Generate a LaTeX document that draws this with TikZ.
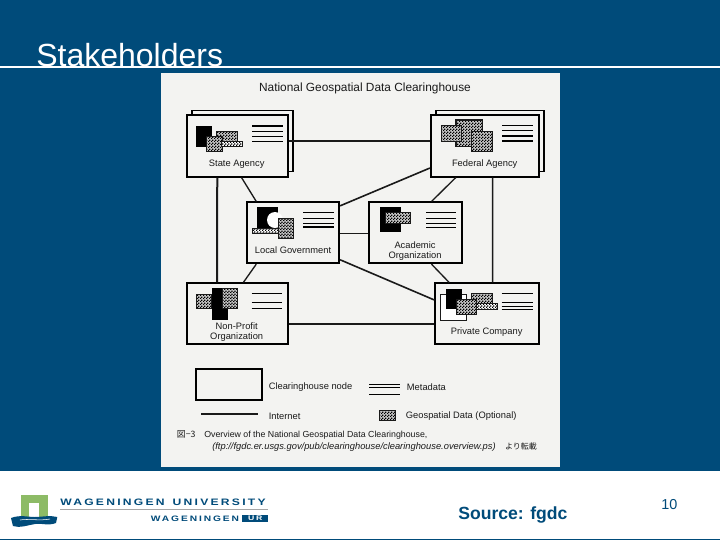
\documentclass[tikz,border=0pt]{standalone}
\usepackage{fontspec}
\setmainfont{Liberation Sans}
\newfontfamily\cjkfont{Noto Sans CJK JP}
\newfontfamily\logofont[LetterSpace=24,FakeStretch=1.3]{Liberation Sans Bold}
\usetikzlibrary{calc,patterns}
\definecolor{slideblue}{HTML}{004B7A}
\definecolor{paper}{HTML}{F3F3F1}
\definecolor{gategreen}{HTML}{8DBB66}
\definecolor{ink}{HTML}{1A1A1A}
\pgfdeclarepatternformonly{halftone}{\pgfpointorigin}{\pgfqpoint{2pt}{2pt}}{\pgfqpoint{2pt}{2pt}}{%
	\pgfpathrectangle{\pgfpointorigin}{\pgfqpoint{1pt}{1pt}}%
	\pgfpathrectangle{\pgfqpoint{1pt}{1pt}}{\pgfqpoint{1pt}{1pt}}%
	\pgfusepath{fill}}
\tikzset{%
	chnode/.style args={#1 and #2}{draw=black,fill=paper,line width=1.3pt,inner sep=0pt,minimum width=#1*0.75pt,minimum height=#2*0.75pt},
	link/.style={draw=ink,line width=#1},
	link/.default=1pt,
	txt/.style={text=ink,font=\fontsize{7}{8}\selectfont,inner sep=0pt},
	swatch/.style={draw=ink,line width=0.4pt,preaction={fill=gray!45},pattern=halftone,pattern color=black},
	strip/.style={swatch,preaction={fill=white}},
	solid block/.style={fill=black},
	meta/.style={draw=black,line width=0.7pt}
}

\begin{document}
\begin{tikzpicture}[x=0.75pt,y=-0.75pt]
	\useasboundingbox (0,0) rectangle (720,540);
	\fill [slideblue] (0,0) rectangle (720,540);
	% title
	\node [text=white,font=\fontsize{24}{28}\selectfont,anchor=base west,inner sep=0pt] (title) at (36,66) {Stakeholders};
	\fill [white] (0,66) rectangle (720,67.6);
	% scanned sheet
	\fill [paper] (161,73) rectangle (560,467);
	\node [txt,font=\fontsize{8.9}{10}\selectfont] (sheet) at (365,88) {National Geospatial Data Clearinghouse};
	% back sheets
	\node [chnode=101 and 61,fill=paper,line width=1pt] (stateback) at (242.5,141.2) {};
	\node [chnode=108 and 61,fill=paper,line width=1pt] (fedback) at (490,141.2) {};
	% clearinghouse nodes
	\node [chnode=101 and 61.5] (state) at (237.4,145.9) {};
	\node [chnode=108.5 and 61.5] (fed) at (485,145.9) {};
	\node [chnode=92.5 and 61] (local) at (293,232.8) {};
	\node [chnode=92.5 and 61] (acad) at (415.5,232.8) {};
	\node [chnode=101 and 61] (nonprofit) at (237.2,313.8) {};
	\node [chnode=103.5 and 61] (private) at (487,313.8) {};
	% connectors
	\draw [link=1.5pt] (state.east |- 0,140.7) -- (fed.west |- 0,140.7);
	\draw [link=1.5pt] (nonprofit.east |- 0,324.3) -- (private.west |- 0,324.3);
	\draw [link=1.5pt] ($(state.south west)!0.304!(state.south east)$) -- ($(nonprofit.north west)!0.304!(nonprofit.north east)$);
	\draw [link] ($(fed.south west)!0.569!(fed.south east)$) -- ($(private.north west)!0.553!(private.north east)$);
	\draw [link] ($(state.south west)!0.54!(state.south east)$) -- ($(local.north west)!0.11!(local.north east)$);
	\draw [link=1.2pt] ($(fed.north west)!0.85!(fed.south west)$) -- ($(local.north east)!0.07!(local.south east)$);
	\draw [link] ($(fed.south west)!0.235!(fed.south east)$) -- ($(acad.north west)!0.67!(acad.north east)$);
	\draw [link=0.6pt] (local.east |- 0,233.3) -- (acad.west |- 0,233.3);
	\draw [link] ($(local.south west)!0.11!(local.south east)$) -- ($(nonprofit.north west)!0.56!(nonprofit.north east)$);
	\draw [link=1.2pt] ($(local.north east)!0.93!(local.south east)$) -- ($(private.north west)!0.28!(private.south west)$);
	\draw [link] ($(acad.south west)!0.67!(acad.south east)$) -- ($(private.north west)!0.14!(private.north east)$);
	% state agency
	\fill [solid block] (196,125.7) rectangle (212.3,146.7);
	\draw [swatch] (216,131.7) rectangle (237.7,141.7);
	\draw [swatch] (206.7,136) rectangle (222.7,151.7);
	\draw [strip] (221.7,141.7) rectangle (242.3,146);
	\foreach \y in {131.7,136.3,141} \draw [meta] (252,\y) -- (282.7,\y);
	\draw [meta,line width=1.3pt] (252,126) -- (282.7,126);
	\node [txt] (statelabel) at (236.7,164.5) {State Agency};
	% federal agency
	\draw [swatch,line width=0.8pt] (456,120) rectangle (482.7,146.7);
	\draw [swatch] (441.7,125) rectangle (461.7,141.7);
	\draw [swatch] (471.7,131.7) rectangle (492.3,151.7);
	\foreach \y in {125,130} \draw [meta] (502.3,\y) -- (533.3,\y);
	\foreach \y in {135.7,140.7} \draw [meta,line width=1.3pt] (502.3,\y) -- (533.3,\y);
	\node [txt] (fedlabel) at (484.7,164.5) {Federal Agency};
	% local government
	\fill [solid block] (257,207.3) rectangle (278,228.3);
	\fill [white] (275,220) circle (8);
	\draw [swatch] (278.3,218.3) rectangle (293.3,238.3);
	\draw [strip] (252.3,228.3) rectangle (278.3,233.3);
	\foreach \y in {212.7,218.3,223.3} \draw [meta] (303.3,\y) -- (334,\y);
	\draw [meta,line width=1.3pt] (303.3,227.3) -- (334,227.3);
	\node [txt] (locallabel) at (293,250.4) {Local Government};
	% academic organization
	\fill [solid block] (380,207.3) rectangle (400.7,232.3);
	\draw [swatch] (385,212.7) rectangle (410.7,223.3);
	\foreach \y in {212.7,218.3,223.3,227.3} \draw [meta] (426,\y) -- (456,\y);
	\node [txt] (acadlabel) at (415,251.2) {\begin{tabular}{@{}c@{}}Academic\\[-0.9pt]Organization\end{tabular}};
	% non-profit organization
	\draw [swatch] (196,294) rectangle (211.7,308.3);
	\fill [solid block] (211.7,288.3) rectangle (227.7,320);
	\draw [swatch] (222.3,288.3) rectangle (237.3,308.3);
	\foreach \y in {293.3,302.7,308.7} \draw [meta] (251.7,\y) -- (282.3,\y);
	\node [txt] (nonprofitlabel) at (236.7,332.2) {\begin{tabular}{@{}c@{}}Non-Profit\\[-0.9pt]Organization\end{tabular}};
	% private company
	\draw [draw=ink,fill=white,line width=0.5pt] (440.7,294) rectangle (466.7,320);
	\fill [solid block] (446,289) rectangle (461.7,309.3);
	\draw [swatch] (471.7,293.3) rectangle (492.3,303.3);
	\draw [strip] (476.7,303.3) rectangle (497.7,309.3);
	\draw [swatch] (456,299.3) rectangle (476.7,314.3);
	\foreach \y in {293.3,302.3,306,309.3} \draw [meta] (501.7,\y) -- (533.3,\y);
	\node [txt] (privatelabel) at (486.7,332.3) {Private Company};
	% legend
	\node [chnode=66.5 and 31,line width=1.5pt] (legendbox) at (229,384.5) {};
	\node [txt,anchor=west] (legendnode) at (268.5,386.7) {Clearinghouse node};
	\coordinate (inta) at (201,414.3);
	\coordinate (intb) at (258.3,414.3);
	\draw [link=1.5pt] (inta) -- (intb);
	\node [txt,anchor=west] (legendint) at (268.5,416.5) {Internet};
	\foreach \y/\w in {384.3/1pt,387.3/1pt,394.3/0.5pt} \draw [meta,line width=\w] (369,\y) -- (400,\y);
	\node [txt,anchor=west] (legendmeta) at (406.7,386.7) {Metadata};
	\draw [swatch] (379.3,410.7) rectangle (395,420);
	\node [txt,anchor=west] (legendgeo) at (405.7,416.5) {Geospatial Data (Optional)};
	% caption
	\node [txt,anchor=west,font=\fontsize{6.6}{7}\selectfont] (caption) at (176.7,434.5) {{\cjkfont 図−3}\quad Overview of the National Geospatial Data Clearinghouse,};
	\node [txt,anchor=west,font=\fontsize{7}{8}\selectfont] (captionb) at (212,447) {\textit{(ftp://fgdc.er.usgs.gov/pub/clearinghouse/clearinghouse.overview.ps)}\hspace{7pt}{\cjkfont\fontsize{6}{7}\selectfont より転載}};
	% footer
	\fill [white] (0,471) rectangle (720,538.6);
	\fill [gategreen] (20.7,495) rectangle (47.7,518.5);
	\fill [white] (29.3,503.3) rectangle (39.3,518.5);
	\fill [slideblue] (11,518) .. controls (20,514.5) and (28,517) .. (34,517) .. controls (42,517) and (50,515) .. (57.3,517) -- (56,523) .. controls (48,526) and (42,523) .. (35,524) .. controls (28,525) and (20,528.5) .. (13,526) -- cycle;
	\draw [white,line width=0.4pt] (20,520) .. controls (28,518.5) and (40,521) .. (50,519);
	\node [text=slideblue,anchor=base west,inner sep=0pt,font=\logofont\fontsize{7}{8}\selectfont] (wu) at (60,505) {WAGENINGEN\hspace{6pt}UNIVERSITY};
	\draw [gray!70,line width=0.4pt] (60,509.3) -- (268.3,509.3);
	\node [text=slideblue,anchor=base west,inner sep=0pt,font=\logofont\fontsize{5.9}{7}\selectfont] (wur) at (150.7,521.3) {WAGENINGEN};
	\node [fill=slideblue,text=white,inner sep=0pt,minimum width=19.5pt,minimum height=5.4pt,font=\logofont\fontsize{5}{6}\selectfont] (ur) at (255.3,518.2) {UR};
	\node [text=slideblue,anchor=base west,inner sep=0pt,font=\bfseries\fontsize{13.2}{15}\selectfont] (source) at (458,519) {Source: fgdc};
	\node [text=slideblue,anchor=base west,inner sep=0pt,font=\fontsize{10.8}{12}\selectfont] (pageno) at (661,509) {10};
\end{tikzpicture}
\end{document}
